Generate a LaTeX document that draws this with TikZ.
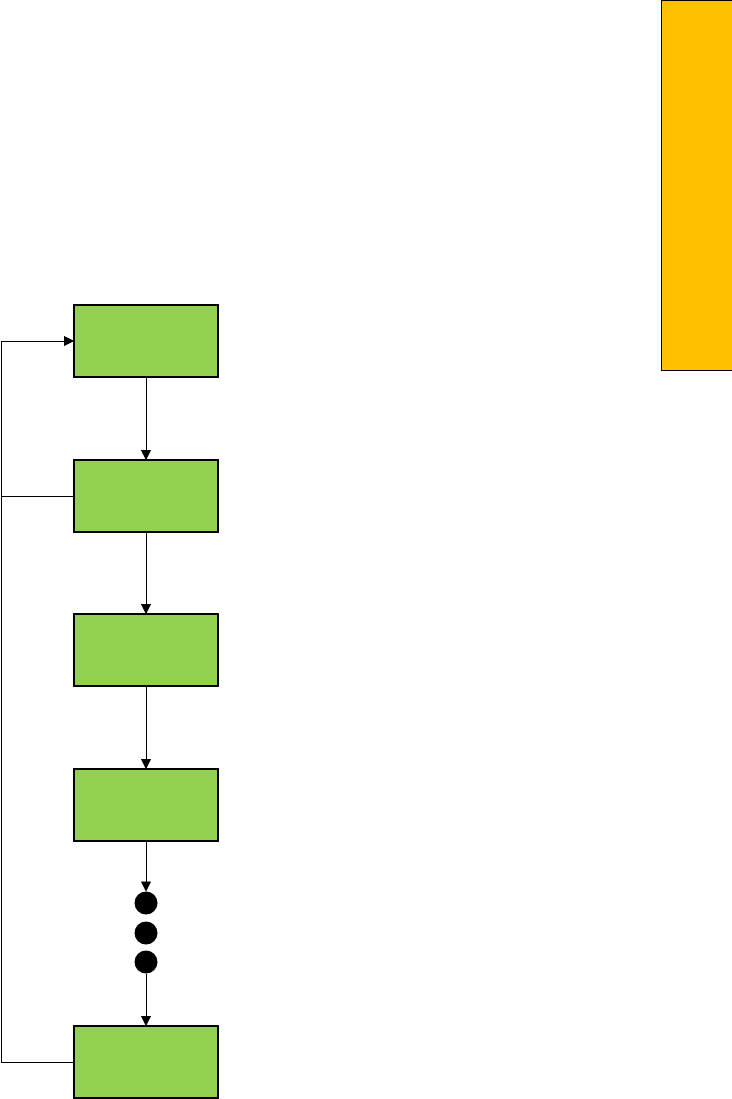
\documentclass[tikz,border=0pt]{standalone}
\usetikzlibrary{arrows.meta}
\definecolor{boxgreen}{HTML}{92D050}
\definecolor{sideorange}{HTML}{FFC000}
\begin{document}
\begin{tikzpicture}[x=1pt,y=-1pt,
  stepbox/.style={draw=black,line width=1.4pt,fill=boxgreen,minimum width=144pt,minimum height=72pt,inner sep=0pt,outer sep=0pt},
  dot/.style={circle,fill=black,minimum size=23pt,inner sep=0pt,outer sep=0pt},
  conn/.style={line width=0.9pt},
  arr/.style={conn,-{Triangle[length=10pt,width=10pt]}}]
\useasboundingbox (0,0) rectangle (731,1099);
\path[draw=black,line width=1pt,fill=sideorange] (661,0.5) rectangle (733,370);
\node[stepbox] (b1) at (146,341) {};
\node[stepbox] (b2) at (146,496) {};
\node[stepbox] (b3) at (146,650) {};
\node[stepbox] (b4) at (146,805) {};
\node[dot] (d1) at (146,903) {};
\node[dot] (d2) at (146,933) {};
\node[dot] (d3) at (146,962) {};
\node[stepbox] (b5) at (146,1062) {};
\coordinate (c1) at (1,341);
\coordinate (c2) at (1,496);
\coordinate (c5) at (1,1062);
\draw[arr] (b1.south) -- (b2.north);
\draw[arr] (b2.south) -- (b3.north);
\draw[arr] (b3.south) -- (b4.north);
\draw[arr] (b4.south) -- (d1.north);
\draw[arr] (d3.south) -- (b5.north);
\draw[arr] (b5.west) -- (c5) -- (c1) -- (b1.west);
\draw[conn] (b2.west) -- (c2);
\end{tikzpicture}
\end{document}
